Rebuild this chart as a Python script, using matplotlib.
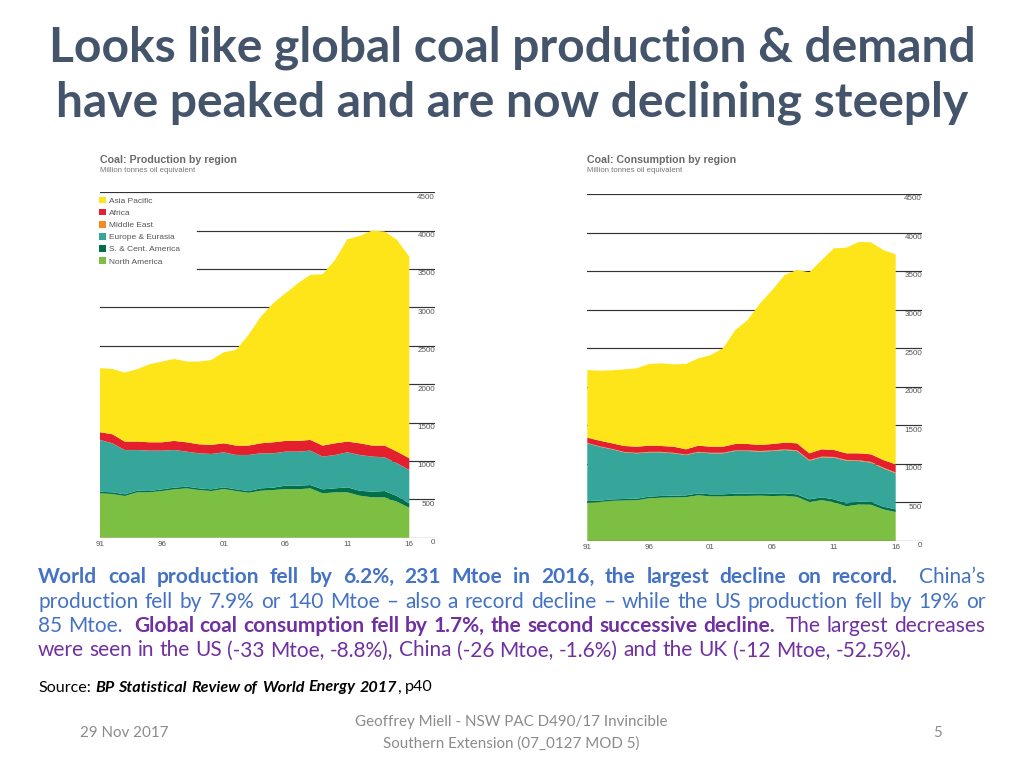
import matplotlib
matplotlib.use("Agg")
import matplotlib.pyplot as plt
from matplotlib.patches import Patch

# ---- data (Mtoe) ----
years = list(range(1991, 2017))
year_ticks = [1991, 1996, 2001, 2006, 2011, 2016]
year_labels = ["91", "96", "01", "06", "11", "16"]
value_ticks = [0, 500, 1000, 1500, 2000, 2500, 3000, 3500, 4000, 4500]

regions = ["North America", "S. & Cent. America", "Europe & Eurasia",
           "Middle East", "Africa", "Asia Pacific"]

prod_na = [578, 569, 543, 591, 591, 608, 630, 643, 621, 608, 634, 608, 586,
           612, 621, 634, 630, 643, 578, 591, 591, 547, 526, 526, 469, 391]
prod_sca = [21, 22, 22, 21, 17, 22, 22, 22, 22, 22, 22, 22, 22,
            31, 31, 44, 48, 43, 52, 52, 65, 65, 73, 82, 74, 56]
prod_ee = [674, 638, 577, 530, 526, 504, 490, 456, 456, 460, 456, 447, 469,
           456, 447, 443, 443, 448, 426, 434, 456, 465, 457, 439, 426, 435]
prod_me = [1, 1, 1, 1, 1, 1, 1, 1, 1, 1, 1, 1, 1,
           1, 1, 1, 1, 1, 1, 1, 1, 1, 1, 1, 1, 1]
prod_af = [100, 118, 109, 109, 108, 108, 118, 121, 117, 118, 117, 122, 122,
           130, 143, 139, 139, 139, 143, 152, 139, 152, 143, 152, 152, 152]
prod_ap = [834, 851, 899, 943, 1017, 1052, 1068, 1052, 1078, 1107, 1186, 1247, 1442,
           1651, 1812, 1924, 2054, 2150, 2233, 2389, 2637, 2702, 2802, 2789, 2758, 2628]

cons_na = [500, 505, 520, 525, 528, 553, 562, 565, 568, 593, 578, 577, 585,
           585, 588, 583, 587, 572, 505, 530, 503, 450, 473, 470, 410, 375]
cons_sca = [19, 18, 20, 20, 21, 22, 22, 23, 24, 25, 27, 28, 29,
            29, 30, 31, 31, 33, 35, 36, 37, 38, 37, 36, 35, 36]
cons_ee = [748, 700, 649, 605, 588, 575, 566, 549, 523, 532, 532, 532, 553,
           553, 541, 553, 562, 562, 502, 519, 541, 554, 528, 510, 497, 467]
cons_me = [5, 5, 5, 5, 6, 6, 6, 6, 6, 6, 7, 7, 8,
           8, 8, 8, 8, 9, 9, 9, 9, 9, 9, 9, 10, 10]
cons_af = [68, 73, 73, 77, 80, 80, 76, 80, 68, 80, 79, 79, 83,
           83, 78, 83, 87, 91, 86, 95, 90, 86, 90, 99, 98, 106]
cons_ap = [878, 908, 946, 994, 1016, 1060, 1072, 1068, 1107, 1133, 1189, 1276, 1478,
           1608, 1837, 1997, 2175, 2248, 2347, 2455, 2616, 2667, 2741, 2749, 2724, 2724]

colors = ["#7CBF42", "#00704A", "#35A699", "#F38A22", "#E4202F", "#FDE51A"]

W, H = 1024, 768
fig = plt.figure(figsize=(W / 100, H / 100), dpi=100)
fig.patch.set_facecolor("white")


def fx(px):
    return px / W


def fy(py):
    return 1 - py / H


def draw_chart(x_left, x_right, x_grid_end, y_zero, y_top, series, title,
               legend=False):
    # axes span from year 1991 to the right end of the gridlines
    per_year = (x_right - x_left) / (years[-1] - years[0])
    xmax = years[0] + (x_grid_end - x_left) / per_year
    ax = fig.add_axes([fx(x_left), fy(y_zero), fx(x_grid_end - x_left),
                       (y_zero - y_top) / H])
    ax.set_xlim(years[0], xmax)
    ax.set_ylim(0, 4500)
    ax.set_facecolor("none")
    for s in ax.spines.values():
        s.set_visible(False)

    for v in value_ticks:
        start = 0
        if legend and v in (3500, 4000):
            start = (197 - x_left) / (x_grid_end - x_left)
        ax.axhline(v, xmin=start, xmax=1, color="#333333", lw=0.85,
                   zorder=1 if v > 0 else 4)
        ax.annotate(str(v), xy=(1, v), xycoords=("axes fraction", "data"),
                    xytext=(0, -3.5), textcoords="offset points",
                    ha="right", va="center", fontsize=5.8, color="#555555",
                    family="Liberation Sans")

    ax.stackplot(years, *series, colors=colors, lw=0, zorder=2)

    ax.set_yticks([])
    ax.set_xticks(year_ticks)
    ax.set_xticklabels(year_labels, fontsize=5.8, color="#555555",
                       family="Liberation Sans")
    ax.tick_params(axis="x", length=0, pad=2.5)

    fig.text(fx(x_left), fy(160), title, fontsize=7.7, fontweight="bold",
             color="#6b6b6b", family="Liberation Sans", va="center")
    fig.text(fx(x_left), fy(171), "Million tonnes oil equivalent", fontsize=5.6,
             color="#777777", family="Liberation Sans", va="center")

    if legend:
        handles = [Patch(facecolor=c, edgecolor="none") for c in colors[::-1]]
        ax.legend(handles, regions[::-1], loc="upper left",
                  bbox_to_anchor=(fx(99), fy(197)), bbox_transform=fig.transFigure,
                  frameon=False, handlelength=0.8,
                  handleheight=0.8, handletextpad=0.45, labelspacing=0.48,
                  borderpad=0, borderaxespad=0,
                  prop={"family": "Liberation Sans", "size": 6.0},
                  labelcolor="#555555")
    return ax


draw_chart(100, 409.3, 435, 537.7, 192.3,
           [prod_na, prod_sca, prod_ee, prod_me, prod_af, prod_ap],
           "Coal: Production by region", legend=True)
draw_chart(587.3, 895.7, 922, 541, 194,
           [cons_na, cons_sca, cons_ee, cons_me, cons_af, cons_ap],
           "Coal: Consumption by region")

# ---- title ----
title_color = "#44546A"
fig.text(0.5, fy(48), "Looks like global coal production & demand",
         ha="center", va="center", fontsize=34.6, fontweight="bold",
         color=title_color, family="Lato")
fig.text(0.5, fy(103), "have peaked and are now declining steeply",
         ha="center", va="center", fontsize=34.6, fontweight="bold",
         color=title_color, family="Lato")

# ---- paragraph (justified lines) ----
renderer = fig.canvas.get_renderer()
blue = "#4472C4"
purple = "#7030A0"
body = dict(family="Lato", fontsize=15.0)
b_bold = dict(body, color=blue, fontweight="bold")
b_reg = dict(body, color=blue)
p_bold = dict(body, color=purple, fontweight="bold")
p_reg = dict(body, color=purple)


def place_line(segments, x0, y, x1=None):
    tokens = []
    for text, style in segments:
        for i, w in enumerate(text.split(" ")):
            tokens.append((w, style, i > 0))
    placed = []
    total = 0
    for w, style, gap in tokens:
        if w:
            t = fig.text(0, fy(y), w, va="baseline", ha="left", **style)
            width = t.get_window_extent(renderer).width
        else:
            t, width = None, 0
        placed.append((t, width, gap, style))
        total += width
    n_gaps = sum(1 for p in placed if p[2])
    if x1 is not None and n_gaps:
        space = (x1 - x0 - total) / n_gaps
    else:
        a = fig.text(0, 0, "a a", **segments[0][1])
        b = fig.text(0, 0, "aa", **segments[0][1])
        space = a.get_window_extent(renderer).width - b.get_window_extent(renderer).width
        a.remove()
        b.remove()
    x = x0
    for t, width, gap, style in placed:
        if gap:
            x += space
        if t is not None:
            t.set_x(fx(x))
        x += width
    return x


place_line([("World coal production fell by 6.2%, 231 Mtoe in 2016, the largest decline on record.", b_bold),
            ("  China\u2019s", b_reg)], 38, 583, 985)
place_line([("production fell by 7.9% or 140 Mtoe \u2013 also a record decline \u2013 while the US production fell by 19% or", b_reg)],
           38, 607.5, 985)
place_line([("85 Mtoe.", b_reg),
            ("  Global coal consumption fell by 1.7%, the second successive decline.", p_bold),
            ("  The largest decreases", p_reg)], 38, 632, 985)
place_line([("were seen in the US (-33 Mtoe, -8.8%), China (-26 Mtoe, -1.6%) and the UK (-12 Mtoe, -52.5%).", p_reg)],
           38, 656.5)

# ---- source ----
src = dict(family="Lato", fontsize=11.6, color="black")
place_line([("Source:", src),
            (" BP Statistical Review of World Energy 2017", dict(src, fontweight="bold", fontstyle="italic")),
            (",", src), (" p40", src)], 38, 691.5)

# ---- footer ----
foot = dict(family="Lato", fontsize=10.9, color="#8B8B8B", va="center")
fig.text(fx(80), fy(733), "29 Nov 2017", ha="left", **foot)
fig.text(fx(511), fy(722), "Geoffrey Miell - NSW PAC D490/17 Invincible", ha="center", **foot)
fig.text(fx(511), fy(744), "Southern Extension (07_0127 MOD 5)", ha="center", **foot)
fig.text(fx(942), fy(733), "5", ha="right", **foot)

fig.savefig("out.png", dpi=100)
